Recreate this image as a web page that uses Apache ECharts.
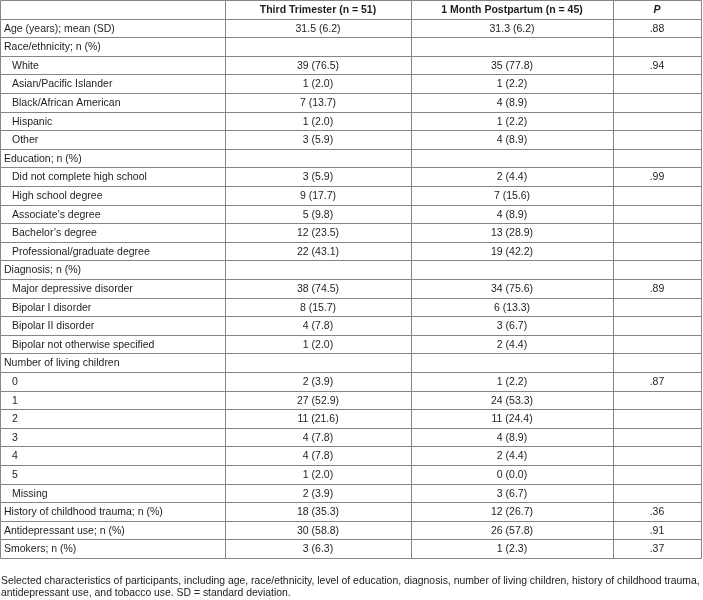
<!DOCTYPE html>
<html>
<head>
<meta charset="utf-8">
<script src="https://cdn.jsdelivr.net/npm/echarts@6/dist/echarts.min.js"></script>
<style>
html,body{margin:0;padding:0;background:#fff;}
#chart{width:703px;height:600px;}
</style>
</head>
<body>
<div id="chart"></div>
<script>
const headers = ['', 'Third Trimester (n = 51)', '1 Month Postpartum (n = 45)', 'P'];
const rowLabels = [
  'Age (years); mean (SD)', 'Race/ethnicity; n (%)', 'White', 'Asian/Pacific Islander',
  'Black/African American', 'Hispanic', 'Other', 'Education; n (%)',
  'Did not complete high school', 'High school degree', 'Associate\u2019s degree',
  'Bachelor\u2019s degree', 'Professional/graduate degree', 'Diagnosis; n (%)',
  'Major depressive disorder', 'Bipolar I disorder', 'Bipolar II disorder',
  'Bipolar not otherwise specified', 'Number of living children', '0', '1', '2', '3', '4', '5',
  'Missing', 'History of childhood trauma; n (%)', 'Antidepressant use; n (%)', 'Smokers; n (%)'
];
const rowIndent = [0,0,1,1,1,1,1,0,1,1,1,1,1,0,1,1,1,1,0,1,1,1,1,1,1,1,0,0,0];
const thirdTrimester = [
  '31.5 (6.2)', '', '39 (76.5)', '1 (2.0)', '7 (13.7)', '1 (2.0)', '3 (5.9)', '',
  '3 (5.9)', '9 (17.7)', '5 (9.8)', '12 (23.5)', '22 (43.1)', '',
  '38 (74.5)', '8 (15.7)', '4 (7.8)', '1 (2.0)', '',
  '2 (3.9)', '27 (52.9)', '11 (21.6)', '4 (7.8)', '4 (7.8)', '1 (2.0)', '2 (3.9)',
  '18 (35.3)', '30 (58.8)', '3 (6.3)'
];
const postpartum = [
  '31.3 (6.2)', '', '35 (77.8)', '1 (2.2)', '4 (8.9)', '1 (2.2)', '4 (8.9)', '',
  '2 (4.4)', '7 (15.6)', '4 (8.9)', '13 (28.9)', '19 (42.2)', '',
  '34 (75.6)', '6 (13.3)', '3 (6.7)', '2 (4.4)', '',
  '1 (2.2)', '24 (53.3)', '11 (24.4)', '4 (8.9)', '2 (4.4)', '0 (0.0)', '3 (6.7)',
  '12 (26.7)', '26 (57.8)', '1 (2.3)'
];
const pValues = [
  '.88', '', '.94', '', '', '', '', '',
  '.99', '', '', '', '', '',
  '.89', '', '', '', '',
  '.87', '', '', '', '', '', '',
  '.36', '.91', '.37'
];
const caption = 'Selected characteristics of participants, including age, race/ethnicity, level of education, diagnosis, number of living children, history of childhood trauma,\nantidepressant use, and tobacco use. SD = standard deviation.';

// layout (column edges in axis units)
const colEdges = [0, 225, 411, 613, 701];
const FONT = "'Liberation Sans', Arial, sans-serif";

const rowsAll = ['header'].concat(rowLabels);
const cellText = (c, r) => {
  if (r === 0) return headers[c];
  const i = r - 1;
  return [rowLabels, thirdTrimester, postpartum, pValues][c][i];
};
const cells = [];
for (let r = 0; r < rowsAll.length; r++) for (let c = 0; c < 4; c++) cells.push([c, r]);

const chart = echarts.init(document.getElementById('chart'), null, {renderer: 'canvas'});
chart.setOption({
  animation: false,
  title: {
    text: caption, left: 1, top: 575, padding: 0,
    textStyle: {fontSize: 10.4, fontWeight: 'normal', color: '#222', fontFamily: FONT, lineHeight: 12}
  },
  grid: {left: 0, top: 0, width: 701, height: 558},
  xAxis: {type: 'value', min: 0, max: 701, show: false},
  yAxis: {type: 'category', data: rowsAll, inverse: true, show: false},
  series: [{
    type: 'custom',
    data: cells,
    renderItem: function (params, api) {
      const c = api.value(0), r = api.value(1);
      const x0 = Math.round(api.coord([colEdges[c], r])[0]);
      const x1 = Math.round(api.coord([colEdges[c + 1], r])[0]);
      const yc = api.coord([0, r])[1];
      const h = api.size([0, 1])[1];
      const y0 = Math.round(yc - h / 2), y1 = Math.round(yc + h / 2);
      const txt = cellText(c, r);
      const isHeader = r === 0;
      let tx, align;
      if (c === 0) { tx = x0 + 4 + (r > 0 && rowIndent[r - 1] ? 8 : 0); align = 'left'; }
      else { tx = (x0 + x1) / 2; align = 'center'; }
      return {
        type: 'group',
        children: [
          {type: 'rect', shape: {x: x0 + 0.5, y: y0 + 0.5, width: x1 - x0, height: y1 - y0},
           style: {fill: 'none', stroke: '#858585', lineWidth: 1}},
          {type: 'text', style: {text: txt, x: tx, y: (y0 + y1) / 2 + 1, align: align, verticalAlign: 'middle',
            fill: '#1e1e1e', fontSize: 10.5, fontFamily: FONT,
            fontWeight: isHeader ? 'bold' : 'normal',
            fontStyle: (isHeader && c === 3) ? 'italic' : 'normal'}}
        ]
      };
    }
  }]
});
</script>
</body>
</html>
